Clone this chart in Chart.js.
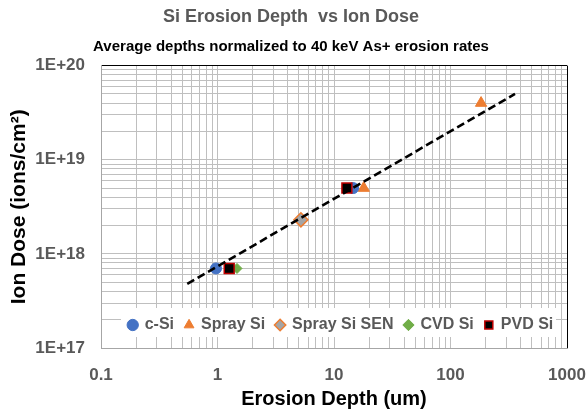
<!DOCTYPE html>
<html>
<head>
<meta charset="utf-8">
<script src="https://cdn.jsdelivr.net/npm/chart.js@4/dist/chart.umd.min.js"></script>
<style>
  html, body { margin: 0; padding: 0; background: #fff; }
  #wrap { width: 588px; height: 419px; }
</style>
</head>
<body>
<div id="wrap"><canvas id="c" width="588" height="419"></canvas></div>
<script>
// ---- data ----
const seriesNames = ['c-Si', 'Spray Si', 'Spray Si SEN', 'CVD Si', 'PVD Si'];
const cSiDepth   = [0.97, 14.6];
const cSiDose    = [7.0e17, 5.0e18];
const spraySiDepth = [18, 183];
const spraySiDose  = [5.0e18, 4.0e19];
const spraySenDepth = [5.2];
const spraySenDose  = [2.3e18];
const cvdSiDepth = [1.47];
const cvdSiDose  = [7.0e17];
const pvdSiDepth = [1.26, 12.9];
const pvdSiDose  = [7.0e17, 5.0e18];
const trendDepth = [0.55, 358];
const trendDose  = [4.8e17, 5.0e19];

const xMajors = [0.1, 1, 10, 100, 1000];
const xTickLabels = ['0.1', '1', '10', '100', '1000'];
const yMajors = [1e17, 1e18, 1e19, 1e20];
const yTickLabels = ['1E+17', '1E+18', '1E+19', '1E+20'];

const titleText = 'Si Erosion Depth  vs Ion Dose';
const subtitleText = 'Average depths normalized to 40 keV As+ erosion rates';
const xTitle = 'Erosion Depth (um)';
const yTitle = 'Ion Dose (ions/cm\u00B2)';

function pts(xs, ys) { return xs.map((x, i) => ({ x: x, y: ys[i] })); }
function logTicks(majors) {
  const out = [];
  for (let i = 0; i < majors.length - 1; i++) {
    for (let k = 1; k <= 9; k++) out.push(majors[i] * k);
  }
  out.push(majors[majors.length - 1]);
  return out;
}

const GRAY_TEXT = '#595959';
const FONT = "'Liberation Sans', Arial, sans-serif";

const legendInPlot = {
  id: 'legendInPlot',
  afterInit(chart) {
    const leg = chart.legend;
    leg.isHorizontal = () => true;
    const origDraw = leg.draw.bind(leg);
    leg.draw = function () {
      const ctx = chart.ctx, ca = chart.chartArea;
      ctx.save();
      ctx.fillStyle = '#ffffff';
      ctx.fillRect(ca.left + 20, ca.bottom - 40, (ca.right - ca.left) - 31, 29);
      ctx.restore();
      origDraw();
    };
  },
  afterLayout(chart) {
    const leg = chart.legend, ca = chart.chartArea;
    leg.left = ca.left + 10;
    leg.right = ca.right + 4;
    leg.width = leg.right - leg.left;
    leg.top = ca.bottom - 42;
    leg.bottom = leg.top + leg.height;
  }
};

new Chart(document.getElementById('c'), {
  type: 'scatter',
  data: {
    datasets: [
      { label: 'trend', type: 'line', data: pts(trendDepth, trendDose),
        borderColor: '#000', borderWidth: 2.6, borderDash: [8, 4], pointRadius: 0,
        fill: false, order: 0 },
      { label: seriesNames[0], data: pts(cSiDepth, cSiDose), pointStyle: 'circle',
        pointRadius: 5.5, backgroundColor: '#4472c4', borderColor: '#4472c4', borderWidth: 1, order: 3 },
      { label: seriesNames[1], data: pts(spraySiDepth, spraySiDose), pointStyle: 'triangle',
        pointRadius: 6.5, backgroundColor: '#ed7d31', borderColor: '#ed7d31', borderWidth: 1, order: 4 },
      { label: seriesNames[2], data: pts(spraySenDepth, spraySenDose), pointStyle: 'rectRot',
        pointRadius: 7, backgroundColor: '#a5a5a5', borderColor: '#ed7d31', borderWidth: 1.5, order: 5 },
      { label: seriesNames[3], data: pts(cvdSiDepth, cvdSiDose), pointStyle: 'rectRot',
        pointRadius: 5, backgroundColor: '#70ad47', borderColor: '#70ad47', borderWidth: 1, order: 6 },
      { label: seriesNames[4], data: pts(pvdSiDepth, pvdSiDose), pointStyle: 'rect',
        pointRadius: 7, backgroundColor: '#000000', borderColor: '#c00000', borderWidth: 1.5, order: 1 }
    ]
  },
  options: {
    responsive: false,
    animation: false,
    layout: { padding: { left: 0, right: 6, top: 0, bottom: 0 } },
    plugins: {
      title: { display: true, text: titleText, color: GRAY_TEXT,
        font: { family: FONT, size: 18, weight: 'bold', lineHeight: 1.2 },
        padding: { top: 6, bottom: 2 } },
      subtitle: { display: true, text: subtitleText, color: '#000',
        font: { family: FONT, size: 15, weight: 'bold', lineHeight: 1.2 },
        padding: { top: 8, bottom: 10 } },
      legend: {
        position: 'chartArea',
        align: 'center',
        labels: {
          usePointStyle: true, boxWidth: 8, boxHeight: 8, padding: 11,
          color: GRAY_TEXT, font: { family: FONT, size: 16, weight: 'bold' },
          filter: (item) => item.text !== 'trend',
          sort: (a, b) => a.datasetIndex - b.datasetIndex
        }
      },
      tooltip: { enabled: false }
    },
    scales: {
      x: {
        type: 'logarithmic', min: xMajors[0], max: xMajors[xMajors.length - 1],
        afterBuildTicks: (s) => { s.ticks = logTicks(xMajors).map(v => ({ value: v })); },
        afterFit: (s) => { s.height = 71; s.paddingRight = 21; },
        ticks: {
          autoSkip: false, maxRotation: 0, minRotation: 0, padding: 17,
          color: GRAY_TEXT, font: { family: FONT, size: 17, weight: 'bold' },
          callback: (v) => { const i = xMajors.indexOf(v); return i >= 0 ? xTickLabels[i] : ''; }
        },
        grid: { drawTicks: false, lineWidth: 1,
          color: (ctx) => (ctx.tick && ctx.tick.value === xMajors[xMajors.length - 1]) ? '#000000' : '#bfbfbf' },
        border: { color: '#a6a6a6', width: 1 },
        title: { display: true, text: xTitle, color: '#000',
          font: { family: FONT, size: 20, weight: 'bold', lineHeight: 1.2 },
          padding: { top: 0, bottom: 8 } }
      },
      y: {
        type: 'logarithmic', min: yMajors[0], max: yMajors[yMajors.length - 1],
        afterBuildTicks: (s) => { s.ticks = logTicks(yMajors).map(v => ({ value: v })); },
        afterFit: (s) => { s.width = 101; },
        ticks: {
          autoSkip: false, padding: 16,
          color: GRAY_TEXT, font: { family: FONT, size: 17, weight: 'bold' },
          callback: (v) => { const i = yMajors.indexOf(v); return i >= 0 ? yTickLabels[i] : ''; }
        },
        grid: { drawTicks: false, lineWidth: 1,
          color: (ctx) => (ctx.tick && ctx.tick.value === yMajors[yMajors.length - 1]) ? '#000000' : '#bfbfbf' },
        border: { color: '#a6a6a6', width: 1 },
        title: { display: true, text: yTitle, color: '#000',
          font: { family: FONT, size: 21, weight: 'bold', lineHeight: 1.2 },
          padding: { top: 7, bottom: 0 } }
      }
    }
  },
  plugins: [legendInPlot]
});
</script>
</body>
</html>
